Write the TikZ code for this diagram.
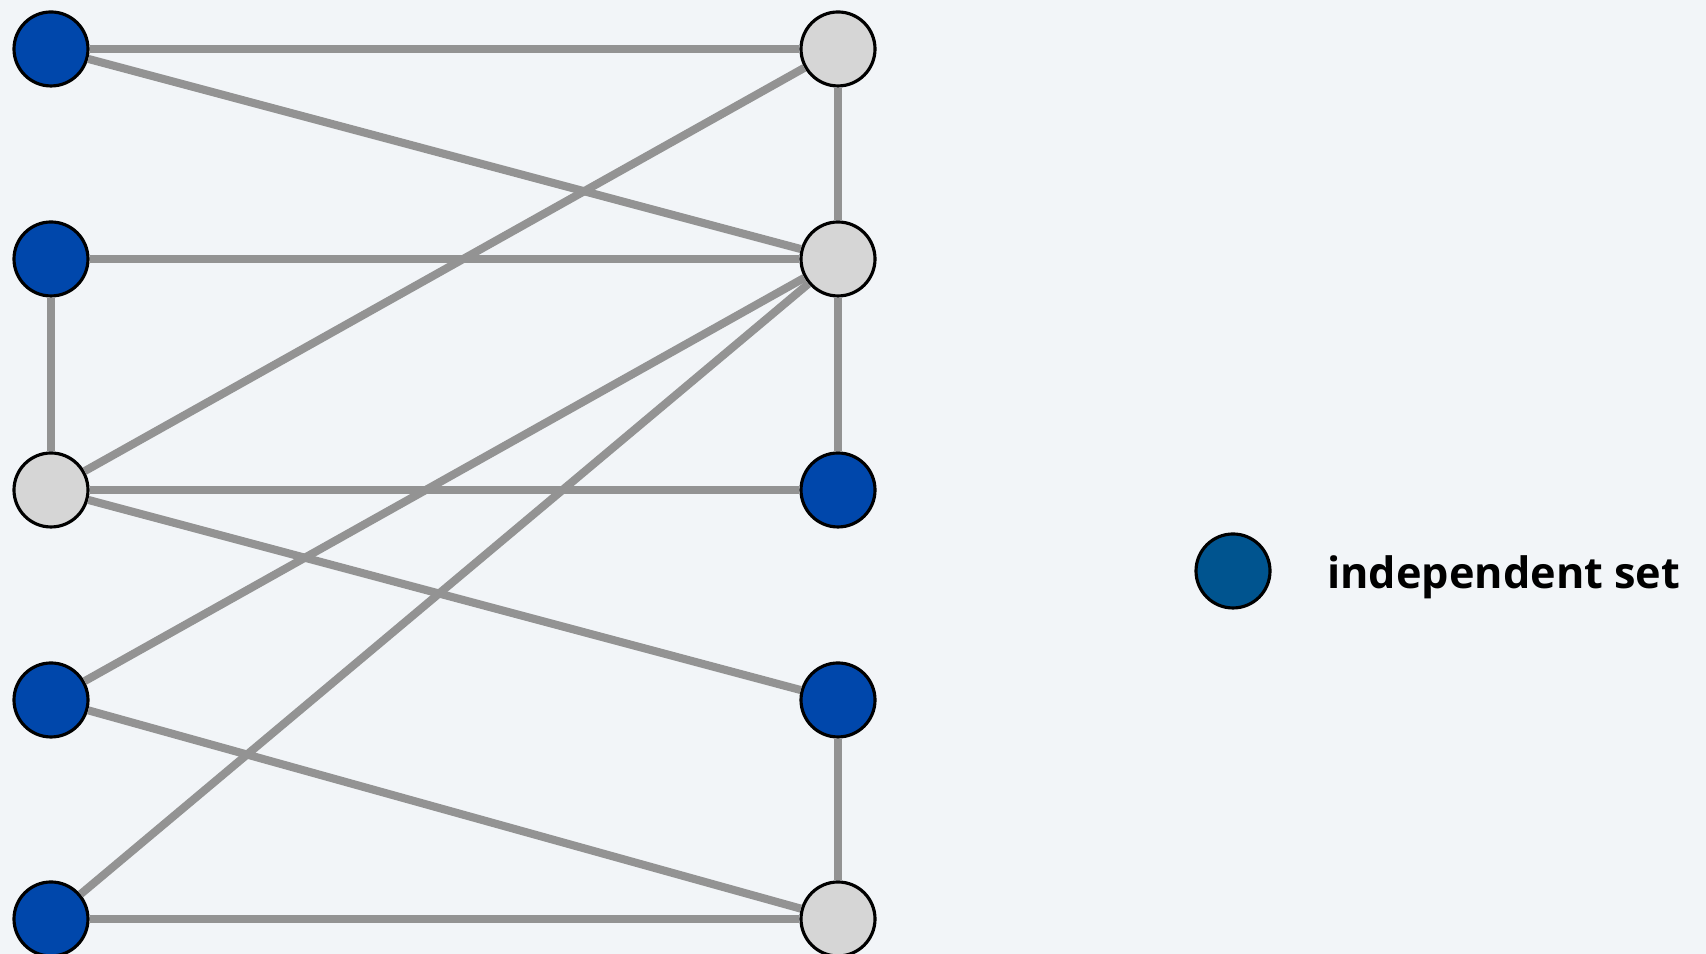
\documentclass[tikz,border=0pt]{standalone}
\usepackage{fontspec}
\setsansfont{Open Sans}
\usepackage{tikz}
\usetikzlibrary{positioning}
\definecolor{bgcol}{RGB}{242,245,248}
\definecolor{setblue}{RGB}{0,71,171}
\definecolor{legblue}{RGB}{0,84,143}
\definecolor{restgray}{RGB}{214,214,214}
\definecolor{edgegray}{RGB}{147,147,147}

\begin{document}
\begin{tikzpicture}[
    vtx/.style={circle, draw=black, line width=0.9pt, minimum size=7.4mm, inner sep=0pt},
    inset/.style={vtx, fill=setblue},
    outset/.style={vtx, fill=restgray},
    edge/.style={draw=edgegray, line width=2.3pt}
]
\fill[bgcol] (0,0) rectangle (17.06,9.54);
\useasboundingbox (0,0) rectangle (17.06,9.54);

% left column
\node[inset]  (l1) at (0.51,9.05) {};
\node[inset]  (l2) at (0.51,6.95) {};
\node[outset] (l3) at (0.51,4.64) {};
\node[inset]  (l4) at (0.51,2.54) {};
\node[inset]  (l5) at (0.51,0.35) {};
% right column
\node[outset] (r1) at (8.38,9.05) {};
\node[outset] (r2) at (8.38,6.95) {};
\node[inset]  (r3) at (8.38,4.64) {};
\node[inset]  (r4) at (8.38,2.54) {};
\node[outset] (r5) at (8.38,0.35) {};

\draw[edge] (l1) -- (r1);
\draw[edge] (l1) -- (r2);
\draw[edge] (l2) -- (r2);
\draw[edge] (l2) -- (l3);
\draw[edge] (l3) -- (r1);
\draw[edge] (l3) -- (r3);
\draw[edge] (l3) -- (r4);
\draw[edge] (l4) -- (r2);
\draw[edge] (l4) -- (r5);
\draw[edge] (l5) -- (r2);
\draw[edge] (l5) -- (r5);
\draw[edge] (r1) -- (r2);
\draw[edge] (r2) -- (r3);
\draw[edge] (r4) -- (r5);

% legend
\node[vtx, fill=legblue] (key) at (12.33,3.83) {};
\node[right=0.55cm of key, yshift=-0.06cm, inner sep=0pt, font=\sffamily\bfseries\fontsize{12.3}{15}\selectfont] (keytext) {independent set};
\end{tikzpicture}
\end{document}
